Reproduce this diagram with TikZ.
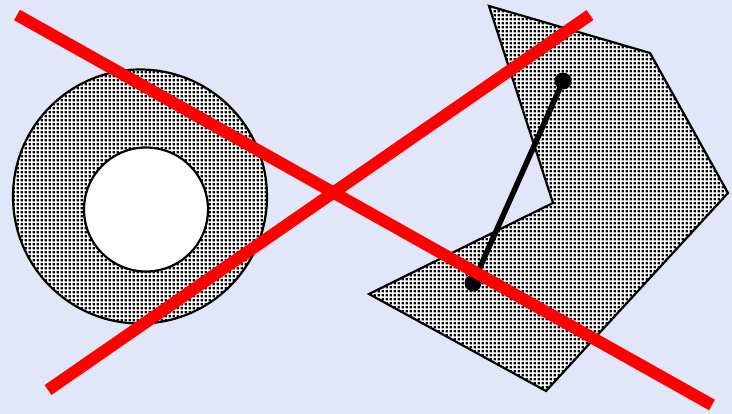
\documentclass[tikz,border=0pt]{standalone}
\usepackage{tikz}
\usetikzlibrary{patterns}
\pgfdeclarepatternformonly{pixdots}{\pgfpointorigin}{\pgfqpoint{4.2pt}{4.2pt}}{\pgfqpoint{4.2pt}{4.2pt}}{%
  \pgfpathrectangle{\pgfqpoint{0.6pt}{0.6pt}}{\pgfqpoint{2.9pt}{2.9pt}}\pgfusepath{fill}}
\definecolor{slidebg}{HTML}{E1E7F8}
\definecolor{crossred}{HTML}{FF0000}
\tikzset{
  dotfill/.style={draw=black, line width=2.2pt, fill=white,
                  postaction={pattern=pixdots}},
  holefill/.style={draw=black, line width=2.2pt, fill=white},
  segline/.style={line width=5.5pt, black},
  enddot/.style={circle, fill=black, inner sep=0pt, minimum size=17pt},
  crossline/.style={line width=12pt, crossred},
}

\begin{document}
\begin{tikzpicture}[x=1pt, y=-1pt]
  \fill[slidebg] (0,0) rectangle (732,414);
  \useasboundingbox (0,0) rectangle (732,414);
  % ring
  \draw[dotfill] (140,196.5) circle (127);
  \draw[holefill] (146,209.5) circle (62);
  % non-convex polygon
  \draw[dotfill, line join=miter] (489,6) -- (650,53) -- (728,193) -- (546,391)
        -- (369,294) -- (553,203) -- cycle;
  \node[enddot] (pa) at (563,81) {};
  \node[enddot] (pb) at (473,283) {};
  \draw[segline] (pa.center) -- (pb.center);
  % cross
  \coordinate (c1) at (17,15);
  \coordinate (c2) at (712,405);
  \coordinate (c3) at (48,390);
  \coordinate (c4) at (590,15);
  \draw[crossline] (c1) -- (c2);
  \draw[crossline] (c3) -- (c4);
\end{tikzpicture}
\end{document}
